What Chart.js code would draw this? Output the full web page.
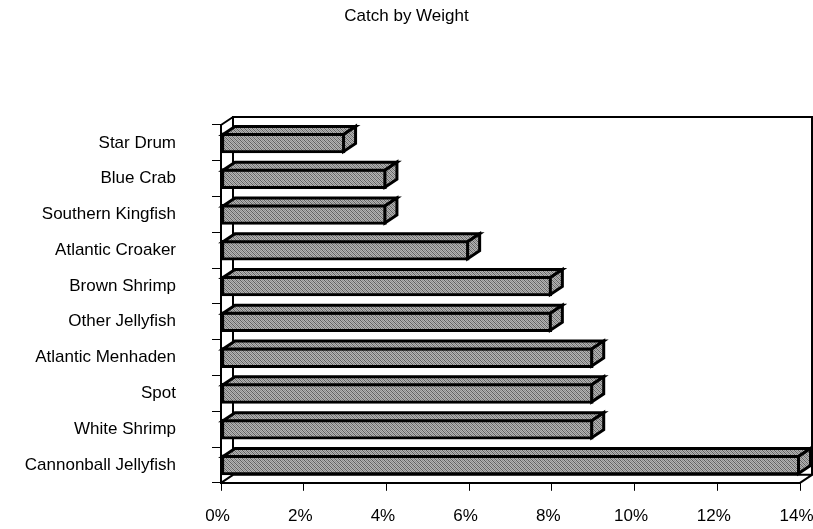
<!DOCTYPE html>
<html>
<head>
<meta charset="utf-8">
<script src="https://cdn.jsdelivr.net/npm/chart.js@4.4.1/dist/chart.umd.min.js"></script>
<style>
  html, body { margin: 0; padding: 0; background: #fff; }
  #wrap { width: 813px; height: 529px; }
</style>
</head>
<body>
<div id="wrap"><canvas id="c" width="813" height="529"></canvas></div>
<script>
// Share of total catch by weight, percent
const categories = ['Star Drum', 'Blue Crab', 'Southern Kingfish', 'Atlantic Croaker', 'Brown Shrimp',
                    'Other Jellyfish', 'Atlantic Menhaden', 'Spot', 'White Shrimp', 'Cannonball Jellyfish'];
const catchShare = [3, 4, 4, 6, 8, 8, 9, 9, 9, 14];
const xTickValues = [0, 2, 4, 6, 8, 10, 12, 14];
const chartTitle = 'Catch by Weight';

const FONT = "'Liberation Sans', Arial, Helvetica, sans-serif";
// receding direction of the 3-D box (right and up)
const DX = 12, DY = -8;

const canvas = document.getElementById('c');
const ctx0 = canvas.getContext('2d');

// fine grey hatch used on every bar face
function makeHatch() {
  const t = document.createElement('canvas');
  t.width = t.height = 4;
  const g = t.getContext('2d');
  for (let y = 0; y < 4; y++) {
    for (let x = 0; x < 4; x++) {
      let v = ((x + y) % 2 === 0) ? 0x8c : 0xb4;
      if ((x - y + 4) % 4 === 0) v = 0x60;
      g.fillStyle = 'rgb(' + v + ',' + v + ',' + v + ')';
      g.fillRect(x, y, 1, 1);
    }
  }
  return ctx0.createPattern(t, 'repeat');
}
const hatch = makeHatch();

// back wall, floor edges and left wall top edge
const frame3d = {
  id: 'frame3d',
  beforeDatasetsDraw(chart) {
    const { ctx, chartArea: a } = chart;
    const L = a.left, R = a.right, T = a.top, B = a.bottom;
    ctx.save();
    ctx.strokeStyle = '#000';
    ctx.lineWidth = 2;
    ctx.beginPath();
    ctx.rect(L + DX, T + DY, R - L, B - T);
    ctx.moveTo(L, T); ctx.lineTo(L + DX, T + DY);
    ctx.moveTo(L, B); ctx.lineTo(L + DX, B + DY);
    ctx.moveTo(R, B); ctx.lineTo(R + DX, B + DY);
    ctx.stroke();
    ctx.restore();
  }
};

// top and end faces of each bar, built on the bar the library laid out
const bars3d = {
  id: 'bars3d',
  afterDatasetsDraw(chart) {
    const ctx = chart.ctx;
    const meta = chart.getDatasetMeta(0);
    const bw = 3, h = bw / 2;
    ctx.save();
    ctx.lineWidth = bw;
    ctx.strokeStyle = '#000';
    ctx.lineJoin = 'miter';
    ctx.fillStyle = hatch;
    meta.data.forEach(bar => {
      const p = bar.getProps(['x', 'y', 'base', 'height'], true);
      const x0 = Math.min(p.base, p.x) + h, x1 = Math.max(p.base, p.x) - h;
      const yT = p.y - p.height / 2 + h, yB = p.y + p.height / 2 - h;
      ctx.beginPath();
      ctx.moveTo(x0, yT); ctx.lineTo(x0 + DX, yT + DY);
      ctx.lineTo(x1 + DX, yT + DY); ctx.lineTo(x1, yT);
      ctx.closePath();
      ctx.fill(); ctx.stroke();
      ctx.beginPath();
      ctx.moveTo(x1, yT); ctx.lineTo(x1 + DX, yT + DY);
      ctx.lineTo(x1 + DX, yB + DY); ctx.lineTo(x1, yB);
      ctx.closePath();
      ctx.fill(); ctx.stroke();
    });
    ctx.restore();
  }
};

new Chart(canvas, {
  type: 'bar',
  data: {
    labels: categories,
    datasets: [{
      data: catchShare,
      backgroundColor: hatch,
      borderColor: '#000',
      borderWidth: 3,
      borderSkipped: false,
      barThickness: 20
    }]
  },
  options: {
    indexAxis: 'y',
    responsive: false,
    animation: false,
    events: [],
    layout: { padding: 0 },
    plugins: {
      legend: { display: false },
      tooltip: { enabled: false },
      title: {
        display: true,
        text: chartTitle,
        color: '#000',
        font: { family: FONT, size: 17, weight: 'normal', lineHeight: 1.2 },
        padding: { top: 6, bottom: 98.6 }
      }
    },
    scales: {
      x: {
        type: 'linear',
        min: 0,
        max: 14,
        afterBuildTicks(s) { s.ticks = xTickValues.map(v => ({ value: v })); },
        afterFit(s) { s.height = 40; s.paddingLeft = 0; s.paddingRight = 13; },
        ticks: {
          callback: v => v + '%',
          color: '#000',
          font: { family: FONT, size: 17 },
          padding: 15,
          labelOffset: -3.5,
          maxRotation: 0,
          autoSkip: false
        },
        grid: { drawOnChartArea: false, drawTicks: true, tickLength: 8, color: '#000', lineWidth: 1 },
        border: { display: true, color: '#000', width: 2 }
      },
      y: {
        afterFit(s) { s.width = 221; },
        ticks: {
          color: '#000',
          font: { family: FONT, size: 17 },
          padding: 36,
          autoSkip: false
        },
        grid: { drawOnChartArea: false, drawTicks: true, tickLength: 9, color: '#000', lineWidth: 1, offset: true },
        border: { display: true, color: '#000', width: 2 }
      }
    }
  },
  plugins: [frame3d, bars3d]
});
</script>
</body>
</html>
